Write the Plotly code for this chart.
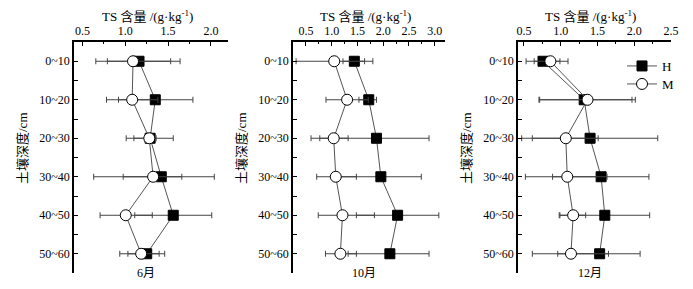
import plotly.graph_objects as go

depths = ["0~10", "10~20", "20~30", "30~40", "40~50", "50~60"]
months = ["6月", "10月", "12月"]

# June
jun_H = [1.16, 1.35, 1.29, 1.42, 1.56, 1.25]
jun_H_minus = [0.37, 0.43, 0.28, 0.79, 0.45, 0.22]
jun_H_plus = [0.37, 0.44, 0.27, 0.62, 0.45, 0.21]
jun_M = [1.09, 1.08, 1.28, 1.325, 1.005, 1.185]
jun_M_minus = [0.435, 0.30, 0.18, 0.35, 0.30, 0.25]
jun_M_plus = [0.55, 0.30, 0.08, 0.335, 0.31, 0.21]

# October
oct_H = [1.44, 1.72, 1.87, 1.955, 2.28, 2.13]
oct_H_minus = [0.22, 0.19, 1.10, 0.80, 0.80, 0.81]
oct_H_plus = [0.20, 0.15, 1.02, 0.785, 0.80, 0.76]
oct_M = [1.05, 1.30, 1.04, 1.08, 1.21, 1.17]
oct_M_minus = [0.74, 0.41, 0.44, 0.37, 0.47, 0.29]
oct_M_plus = [0.75, 0.41, 0.28, 0.40, 0.62, 0.31]

# December
dec_H = [0.76, 1.32, 1.40, 1.55, 1.60, 1.53]
dec_H_minus = [0.23, 0.615, 0.93, 0.66, 0.61, 0.57]
dec_H_plus = [0.23, 0.65, 0.92, 0.65, 0.61, 0.55]
dec_M = [0.86, 1.365, 1.07, 1.09, 1.17, 1.14]
dec_M_minus = [0.22, 0.65, 0.455, 0.57, 0.19, 0.525]
dec_M_plus = [0.24, 0.65, 0.44, 0.54, 0.17, 0.51]

x_ranges = [[0.40, 2.2], [0.25, 3.2], [0.42, 2.5]]
x_ticks = [[0.5, 1.0, 1.5, 2.0], [0.5, 1.0, 1.5, 2.0, 2.5, 3.0], [0.5, 1.0, 1.5, 2.0, 2.5]]

# page body has an 8px margin; work in reference pixel coordinates and shift
OFF = 8
W, H = 693 - 2 * OFF, 289 - 2 * OFF
panel_px = [(74, 228), (293, 445), (518, 671)]
top_px, bot_px = 42, 273


def fx(px):
    return (px - OFF) / W


def fy(py):
    return 1 - (py - OFF) / H


FONT = "Liberation Serif, Times New Roman, Noto Sans CJK SC, serif"
LINE_C = "#555555"
ERR_C = "#444444"

data = [
    (jun_H, jun_H_minus, jun_H_plus, jun_M, jun_M_minus, jun_M_plus),
    (oct_H, oct_H_minus, oct_H_plus, oct_M, oct_M_minus, oct_M_plus),
    (dec_H, dec_H_minus, dec_H_plus, dec_M, dec_M_minus, dec_M_plus),
]

fig = go.Figure()
ypos = list(range(len(depths)))

for i, (hv, hm, hp, mv, mm, mp) in enumerate(data):
    xa = "x" if i == 0 else f"x{i+1}"
    ya = "y" if i == 0 else f"y{i+1}"
    fig.add_trace(go.Scatter(
        x=hv, y=ypos, xaxis=xa, yaxis=ya, mode="lines+markers", name="H",
        line=dict(color=LINE_C, width=1),
        marker=dict(symbol="square", size=10, color="black", line=dict(color="black", width=1)),
        error_x=dict(type="data", symmetric=False, array=hp, arrayminus=hm,
                     color=ERR_C, thickness=1, width=3),
        showlegend=(i == 2), legend="legend",
    ))
    fig.add_trace(go.Scatter(
        x=mv, y=ypos, xaxis=xa, yaxis=ya, mode="lines+markers", name="M",
        line=dict(color=LINE_C, width=1),
        marker=dict(symbol="circle", size=11, color="white", line=dict(color="black", width=1)),
        error_x=dict(type="data", symmetric=False, array=mp, arrayminus=mm,
                     color=ERR_C, thickness=1, width=3),
        showlegend=(i == 2), legend="legend2",
    ))

leg_common = dict(xanchor="left", yanchor="middle", bgcolor="rgba(0,0,0,0)",
                  font=dict(size=13), itemwidth=30, borderwidth=0)

layout = dict(
    width=W, height=H, autosize=False,
    margin=dict(l=0, r=0, t=0, b=0),
    paper_bgcolor="white", plot_bgcolor="white",
    font=dict(family=FONT, size=12, color="black"),
    legend=dict(x=fx(622), y=fy(66), **leg_common),
    legend2=dict(x=fx(622), y=fy(84), **leg_common),
)

annotations = []
for i in range(3):
    suf = "" if i == 0 else str(i + 1)
    x0, x1 = panel_px[i]
    layout[f"xaxis{suf}"] = dict(
        domain=[fx(x0), fx(x1)], anchor=f"y{suf}", side="top",
        range=x_ranges[i], tickvals=x_ticks[i], ticktext=[f"{t:.1f}" for t in x_ticks[i]],
        ticks="inside", ticklen=4, tickcolor="black", tickwidth=1,
        minor=dict(dtick=0.25, tick0=0, ticks="inside", ticklen=2, tickcolor="black"),
        showline=True, linecolor="black", linewidth=1.5, mirror=False,
        showgrid=False, zeroline=False, tickfont=dict(size=12), automargin=False,
    )
    layout[f"yaxis{suf}"] = dict(
        domain=[fy(bot_px), fy(top_px)], anchor=f"x{suf}",
        range=[5.5, -0.5], tickvals=ypos, ticktext=depths,
        ticks="inside", ticklen=4, tickcolor="black",
        minor=dict(tickvals=[0.5, 1.5, 2.5, 3.5, 4.5], ticks="inside", ticklen=4, tickcolor="black"),
        showline=True, linecolor="black", linewidth=1.5, mirror=False,
        showgrid=False, zeroline=False, tickfont=dict(size=12), automargin=False,
    )
    cx = (x0 + x1) / 2
    annotations.append(dict(text="TS 含量 /(g·kg<sup>-1</sup>)", x=fx(cx - 4), y=fy(16),
                            xref="paper", yref="paper", showarrow=False,
                            xanchor="center", yanchor="middle", font=dict(size=13)))
    annotations.append(dict(text=months[i], x=fx(cx - 5), y=fy(273),
                            xref="paper", yref="paper", showarrow=False,
                            xanchor="center", yanchor="middle", font=dict(size=12)))
    annotations.append(dict(text="土壤深度/cm", x=fx(x0 - 52), y=fy(148),
                            xref="paper", yref="paper", showarrow=False, textangle=-90,
                            xanchor="center", yanchor="middle", font=dict(size=13)))

layout["annotations"] = annotations
fig.update_layout(**layout)
fig.write_html("out.html")
